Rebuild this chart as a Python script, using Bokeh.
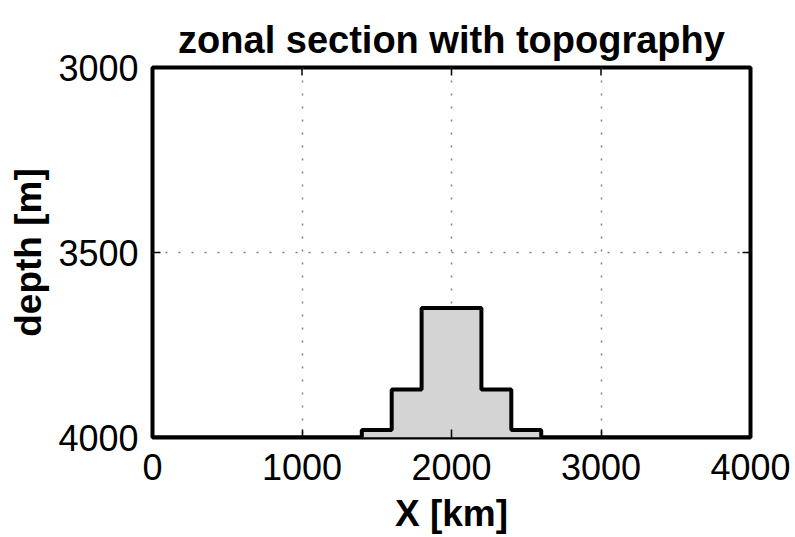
import math
from bokeh.plotting import figure
from bokeh.models import Range1d, FixedTicker
from bokeh.embed import file_html
from bokeh.resources import INLINE

# Data: topography steps (cell edges in km, depth in m for each step)
edges_km = [0, 1400, 1600, 1800, 2200, 2400, 2600, 4000]
depth_m = [4000, 3980, 3870, 3650, 3870, 3980, 4000]
x_ticks = [0, 1000, 2000, 3000, 4000]
y_ticks = [3000, 3500, 4000]
x_lim = [0, 4000]
y_lim = [4000, 3000]
title_text = "zonal section with topography"

xs, ys = [], []
for i, d in enumerate(depth_m):
    xs += [edges_km[i], edges_km[i + 1]]
    ys += [d, d]
bottom = max(depth_m)
px = xs + [edges_km[-1], edges_km[0]]
py = ys + [bottom, bottom]

FONT = "Liberation Sans"

p = figure(width=795, height=537, output_backend="svg", toolbar_location=None,
           x_range=Range1d(*x_lim), y_range=Range1d(*y_lim),
           min_border_left=152, min_border_right=45, min_border_top=67,
           min_border_bottom=100, background_fill_color="white",
           border_fill_color="white")

p.title.text = title_text
p.title.text_font = FONT
p.title.text_font_size = "38px"
p.title.text_font_style = "bold"
p.title.align = "center"
p.title.vertical_align = "top"
p.title.text_color = "black"
p.title.standoff = 10

p.patch(px, py, fill_color="#d4d4d4", line_color=None)
p.line(xs, ys, line_color="black", line_width=4)

# inward ticks on top and right edges (clipped to the frame, so only the inner half shows)
p.scatter(x=x_ticks, y=[y_lim[1]] * len(x_ticks), marker="dash", angle=math.pi / 2,
          size=16, line_color="black", line_width=1.5)
p.scatter(x=[x_lim[1]] * len(y_ticks), y=y_ticks, marker="dash", angle=0,
          size=16, line_color="black", line_width=1.5)

p.outline_line_color = "black"
p.outline_line_width = 4

for ax in (p.xaxis[0], p.yaxis[0]):
    ax.axis_line_color = None
    ax.major_tick_in = 8
    ax.major_tick_out = 0
    ax.major_tick_line_width = 1.5
    ax.major_tick_line_color = "black"
    ax.minor_tick_line_color = None
    ax.major_label_text_font = FONT
    ax.major_label_text_font_size = "36px"
    ax.major_label_text_color = "black"
    ax.axis_label_text_font = FONT
    ax.axis_label_text_font_size = "37px"
    ax.axis_label_text_font_style = "bold"
    ax.axis_label_text_color = "black"

p.xaxis.ticker = FixedTicker(ticks=x_ticks)
p.yaxis.ticker = FixedTicker(ticks=y_ticks)
p.xaxis.axis_label = "X [km]"
p.yaxis.axis_label = "depth [m]"
p.xaxis.major_label_standoff = 16
p.yaxis.major_label_standoff = 14
p.xaxis.axis_label_standoff = 10
p.yaxis.axis_label_standoff = 6
p.yaxis.major_label_orientation = "horizontal"

p.xgrid.ticker = FixedTicker(ticks=[1000, 2000, 3000])
p.ygrid.ticker = FixedTicker(ticks=[3500])
for g in (p.xgrid[0], p.ygrid[0]):
    g.grid_line_color = "#808080"
    g.grid_line_width = 1.5
    g.grid_line_dash = "2 11"

open("out.html", "w").write(file_html(p, INLINE))
